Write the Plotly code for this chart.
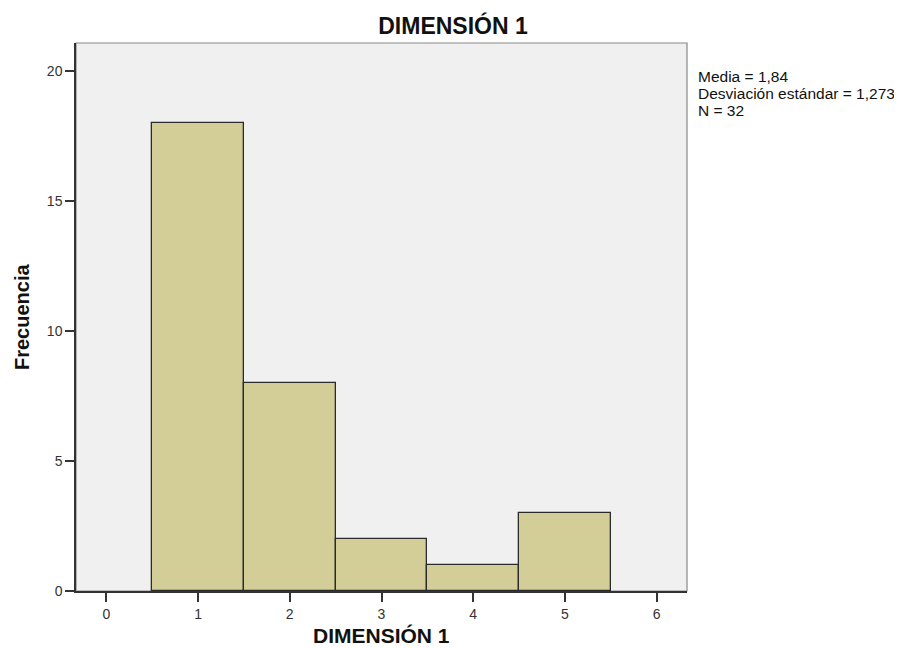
import plotly.graph_objects as go

categories = [1, 2, 3, 4, 5]
frequencies = [18, 8, 2, 1, 3]
x_ticks = [0, 1, 2, 3, 4, 5, 6]
y_ticks = [0, 5, 10, 15, 20]
stats_lines = ["Media = 1,84", "Desviación estándar = 1,273", "N = 32"]

FONT = "Liberation Sans, Arial, sans-serif"
W, H = 894, 640
L, T, PW, PH = 68, 35, 611, 548

fig = go.Figure()
fig.add_trace(go.Bar(
    x=categories, y=frequencies, width=1,
    marker=dict(color="#D3CE97", line=dict(color="#2b2b2b", width=1.3)),
    showlegend=False, hoverinfo="x+y",
))

fig.update_layout(
    width=W, height=H,
    margin=dict(l=L, r=W - L - PW, t=T, b=H - T - PH, pad=0),
    paper_bgcolor="white", plot_bgcolor="#F0F0F0",
    font=dict(family=FONT, color="#222"),
    title=dict(text="<b>DIMENSIÓN 1</b>", x=(453 - 8) / W, xref="container", xanchor="center",
               y=1 - 18 / H, yref="container", yanchor="middle",
               font=dict(size=23, color="#111")),
    xaxis=dict(range=[-0.33, 6.33], tickvals=x_ticks, ticks="outside", ticklen=9,
               tickwidth=1.5, tickcolor="#333", showgrid=False, zeroline=False,
               showline=True, linecolor="#333", linewidth=1.5, automargin=False,
               tickfont=dict(size=14, color="#333")),
    yaxis=dict(range=[0, 21.07], tickvals=y_ticks, ticks="outside", ticklen=9,
               tickwidth=1.5, tickcolor="#333", showgrid=False, zeroline=False,
               showline=True, linecolor="#333", linewidth=1.5, automargin=False,
               tickfont=dict(size=14, color="#333")),
    bargap=0,
)

# gray top/right border of the plot area
fig.add_shape(type="rect", xref="paper", yref="paper", x0=0, y0=0, x1=1, y1=1,
              line=dict(color="#888", width=1.2), fillcolor="rgba(0,0,0,0)", layer="below")

# axis titles
fig.add_annotation(xref="paper", yref="paper", x=0.5, y=-44 / PH, xanchor="center", yanchor="middle",
                   showarrow=False, text="<b>DIMENSIÓN 1</b>", font=dict(size=21, color="#111"))
fig.add_annotation(xref="paper", yref="paper", x=-54 / PW, y=0.5, xanchor="center", yanchor="middle",
                   showarrow=False, textangle=-90, text="<b>Frecuencia</b>",
                   font=dict(size=20, color="#111"))

line_offsets = [33, 50, 67]
for txt, off in zip(stats_lines, line_offsets):
    fig.add_annotation(xref="paper", yref="paper", x=1.0 + 9 / PW, y=1 - off / PH,
                       xanchor="left", yanchor="middle", align="left", showarrow=False,
                       text=txt, font=dict(size=15.5, color="#111"))

fig.write_html("out.html")
